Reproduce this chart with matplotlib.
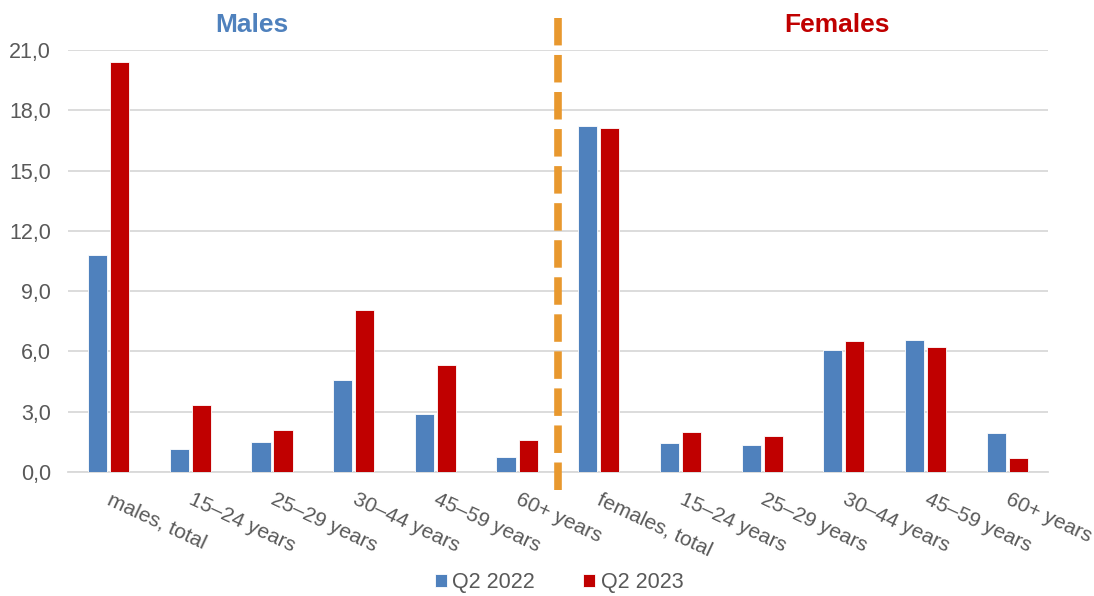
import numpy as np
import matplotlib
matplotlib.use('Agg')
from matplotlib import pyplot as plt

plt.rcParams['font.family'] = ['Liberation Sans', 'DejaVu Sans']

categories = ['males, total', '15–24 years', '25–29 years', '30–44 years', '45–59 years', '60+ years',
              'females, total', '15–24 years', '25–29 years', '30–44 years', '45–59 years', '60+ years']
q2_2022 = [10.8, 1.15, 1.5, 4.6, 2.9, 0.75, 17.2, 1.45, 1.35, 6.05, 6.55, 1.95]
q2_2023 = [20.4, 3.35, 2.1, 8.05, 5.35, 1.6, 17.1, 2.0, 1.8, 6.5, 6.2, 0.7]
series_names = ['Q2 2022', 'Q2 2023']
y_ticks = [0, 3, 6, 9, 12, 15, 18, 21]

blue = '#4F81BD'
red = '#C00000'
grey = '#595959'

fig = plt.figure(figsize=(10.94, 5.96), dpi=100)
ax = fig.add_axes([0.062, 0.208, 0.896, 0.708])

x = np.arange(len(categories))
w = 0.235
ax.bar(x - 0.135, q2_2022, w, color=blue, edgecolor='white', linewidth=0.6, label=series_names[0], zorder=3)
ax.bar(x + 0.135, q2_2023, w, color=red, edgecolor='white', linewidth=0.6, label=series_names[1], zorder=3)

ax.set_xlim(-0.5, len(categories) - 0.5)
ax.set_ylim(0, 21)
ax.set_yticks(y_ticks)
ax.set_yticklabels([f'{v:.1f}'.replace('.', ',') for v in y_ticks], fontsize=15.5, color=grey)
ax.grid(axis='y', color='#D9D9D9', linewidth=1.3, zorder=0)
ax.set_axisbelow(True)
for s in ['top', 'right', 'left']:
    ax.spines[s].set_visible(False)
ax.spines['bottom'].set_color('#D9D9D9')
ax.spines['bottom'].set_linewidth(1.3)
ax.tick_params(axis='y', length=0, pad=12)
ax.tick_params(axis='x', length=0, pad=13)
ax.set_xticks(x + 0.05)
ax.set_xticklabels(categories, rotation=-25, ha='left', rotation_mode='anchor', fontsize=15, color=grey)

# dividing line between males and females
ax.plot([5.5, 5.5], [-0.9, 22.6], color='#E8982E', linewidth=5.5, dashes=(3.6, 1.25), clip_on=False, zorder=4)

ax.text(1.75, 22.25, 'Males', color=blue, fontsize=19, fontweight='bold', ha='center', va='center')
ax.text(8.92, 22.25, 'Females', color=red, fontsize=19, fontweight='bold', ha='center', va='center')

fig.legend(loc='lower center', bbox_to_anchor=(0.511, -0.028), ncol=2, frameon=False, fontsize=15.5,
           handlelength=0.55, handleheight=0.55, handletextpad=0.25, columnspacing=2.25, labelcolor=grey)

fig.savefig('out.png', dpi=100)
